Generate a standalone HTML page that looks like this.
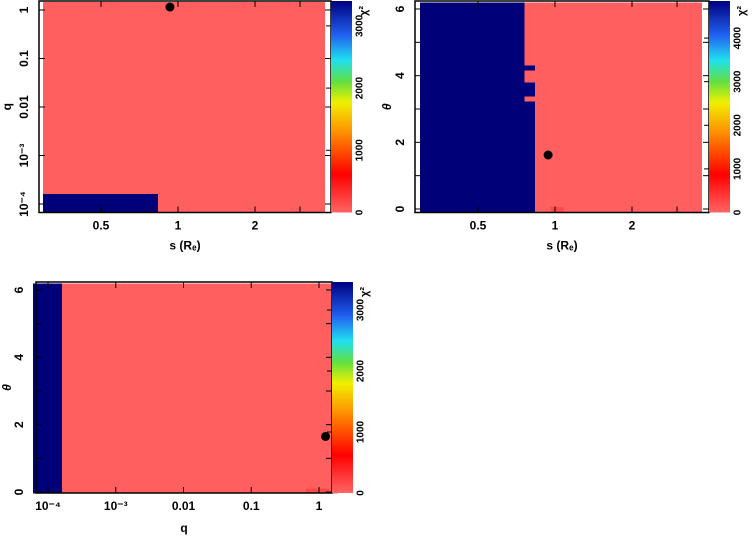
<!DOCTYPE html>
<html><head><meta charset="utf-8">
<style>
body{margin:0;background:#fff;width:754px;height:538px;overflow:hidden}
svg{display:block;font-family:"Liberation Sans",sans-serif;font-weight:bold;font-size:12px}
</style></head>
<body>
<svg id="c" width="754" height="538" xmlns="http://www.w3.org/2000/svg">
<defs>
<linearGradient id="cmap" x1="0" y1="1" x2="0" y2="0">
<stop offset="0" stop-color="#ff6464"/>
<stop offset="0.18" stop-color="#ff0000"/>
<stop offset="0.38" stop-color="#ff9000"/>
<stop offset="0.52" stop-color="#f0f000"/>
<stop offset="0.62" stop-color="#60e040"/>
<stop offset="0.72" stop-color="#20e0f0"/>
<stop offset="0.84" stop-color="#2060f0"/>
<stop offset="1" stop-color="#000080"/>
</linearGradient>
</defs>
</svg>
<script>
// ---- data ----
const panel1Cells = [ // s range, q range, chi2
  {x0:0.297,x1:3.76,y0:6.8e-5,y1:1.46,v:150},
  {x0:0.297,x1:0.835,y0:6.8e-5,y1:1.6e-4,v:5000}
];
const panel1Best = [0.93, 1.15];
const panel2Cells = [
  {x0:0.297,x1:3.76,y0:-0.09,y1:6.2,v:150},
  {x0:0.297,x1:0.76,y0:3.2,y1:6.2,v:5000},
  {x0:0.297,x1:0.835,y0:-0.09,y1:3.22,v:5000},
  {x0:0.76,x1:0.835,y0:4.15,y1:4.3,v:5000},
  {x0:0.76,x1:0.835,y0:3.37,y1:3.8,v:5000},
  {x0:0.96,x1:1.08,y0:-0.09,y1:0.06,v:400}
];
const panel2Best = [0.94, 1.62];
const panel3Cells = [
  {x0:6e-5,x1:1.9,y0:-0.05,y1:6.2,v:150},
  {x0:6e-5,x1:1.6e-4,y0:-0.05,y1:6.2,v:5000},
  {x0:0.64,x1:1.4,y0:-0.05,y1:0.1,v:400}
];
const panel3Best = [1.25, 1.65];
const sTicks = [0.5,1,2,3];
const sTickLabels = ["0.5","1","2",""];
const qTicks = [1e-4,1e-3,0.01,0.1,1];
const qTickLabels = ["10\u207B\u2074","10\u207B\u00B3","0.01","0.1","1"];
const thTicks = [0,1,2,3,4,5,6];
const thTickLabels = ["0","","2","","4","","6"];
const cb1Ticks=[0,1000,2000,3000], cb2Ticks=[0,1000,2000,3000,4000], cb3Ticks=[0,1000,2000,3000];
// ---- helpers ----
const svg=document.getElementById('c');
const NS="http://www.w3.org/2000/svg";
function mk(t,a,p){const e=document.createElementNS(NS,t);for(const k in a)e.setAttribute(k,a[k]);(p||svg).appendChild(e);return e;}
function logScale(d0,d1,r0,r1){return v=>r0+(Math.log(v)-Math.log(d0))/(Math.log(d1)-Math.log(d0))*(r1-r0);}
function linScale(d0,d1,r0,r1){return v=>r0+(v-d0)/(d1-d0)*(r1-r0);}
function color(v,max){
  if(v>=max*0.9) return "#000078";
  if(v<300) return "#ff5f5f";
  return "#ff4848";
}
function panel(o){
  const g=mk('g',{});
  
  
  o.cells.forEach((c,i)=>{
    const x0=o.xs(c.x0),x1=o.xs(c.x1),y0=o.ys(c.y0),y1=o.ys(c.y1);
    const r=mk('rect',{x:Math.min(x0,x1),y:Math.min(y0,y1),width:Math.abs(x1-x0),height:Math.abs(y1-y0),fill:color(c.v,o.cmax),'shape-rendering':'crispEdges'},g);
    
    
  });
  const f=mk('rect',{x:o.fx0,y:o.fy0,width:o.fx1-o.fx0,height:o.fy1-o.fy0,fill:'none',stroke:'#000','stroke-width':1.5},g);
  
  
  o.xt.forEach((t,i)=>{const x=o.xs(t);
    mk('line',{x1:x,x2:x,y1:o.fy1,y2:o.fy1-6,stroke:'#000'},g);
    mk('line',{x1:x,x2:x,y1:o.fy0,y2:o.fy0+6,stroke:'#000'},g);
    if(o.xl[i]){const tx=mk('text',{x:x,y:o.fy1+17,'text-anchor':'middle'},g);tx.textContent=o.xl[i];
      }
  });
  o.yt.forEach((t,i)=>{const y=o.ys(t);
    mk('line',{x1:o.fx0,x2:o.fx0+6,y1:y,y2:y,stroke:'#000'},g);
    mk('line',{x1:o.fx1,x2:o.fx1-6,y1:y,y2:y,stroke:'#000'},g);
    if(o.yl[i]){const lx=o.fx0-o.ylOff;const tx=mk('text',{x:lx,y:y,'text-anchor':'middle',transform:`rotate(-90 ${lx} ${y})`,'dominant-baseline':'middle'},g);tx.textContent=o.yl[i];
      }
  });
  const xt=mk('text',{x:(o.fx0+o.fx1)/2,y:o.fy1+o.xtOff,'text-anchor':'middle'},g);xt.textContent=o.xTitle;
  
  const yx=o.ytx,yy=(o.fy0+o.fy1)/2;
  const yt=mk('text',{x:yx,y:yy,'text-anchor':'middle',transform:`rotate(-90 ${yx} ${yy})`,'dominant-baseline':'middle','font-style':o.yItalic?'italic':'normal'},g);yt.textContent=o.yTitle;
  
  const d=mk('circle',{cx:o.xs(o.best[0]),cy:o.ys(o.best[1]),r:4.5,fill:'#000'},g);
  
  const cb=mk('rect',{x:o.cbx,y:o.fy0,width:21,height:o.fy1-o.fy0,fill:'url(#cmap)'},g);
  
  const cs=linScale(0,o.cmax,o.fy1,o.fy0);
  o.cbt.forEach(t=>{const y=cs(t);
    mk('line',{x1:o.cbx,x2:o.cbx-5,y1:y,y2:y,stroke:'#000'},g);
    const tx=mk('text',{x:o.cbx+29,y:y,'text-anchor':'middle','dominant-baseline':'middle','font-size':10,transform:`rotate(-90 ${o.cbx+29} ${y})`},g);tx.textContent=String(t);
    
  });
  const ct=mk('text',{x:o.cbx+33,y:o.fy0+10,'text-anchor':'middle','dominant-baseline':'middle','font-size':11,transform:`rotate(-90 ${o.cbx+33} ${o.fy0+10})`},g);ct.textContent="\u03C7\u00B2";
  
}
panel({name:'panel-s-q',cells:panel1Cells,best:panel1Best,
  xs:logScale(1,2,178,255),ys:logScale(1,0.1,10,58.5),
  fx0:39,fx1:331,fy0:1,fy1:212.5,cbx:331,cmax:3400,ylOff:14,ytx:8,xtOff:37,
  xt:sTicks,xl:sTickLabels,yt:qTicks,yl:qTickLabels,
  xTitle:"s (R\u2091)",yTitle:"q",cbt:cb1Ticks});
panel({name:'panel-s-theta',cells:panel2Cells,best:panel2Best,
  xs:logScale(1,2,555,632),ys:linScale(0,6,209,9),
  fx0:415,fx1:709,fy0:1,fy1:212.5,cbx:709,cmax:4850,ylOff:14,ytx:388,xtOff:37,
  xt:sTicks,xl:sTickLabels,yt:thTicks,yl:thTickLabels,yItalic:true,
  xTitle:"s (R\u2091)",yTitle:"\u03B8",cbt:cb2Ticks});
panel({name:'panel-q-theta',cells:panel3Cells,best:panel3Best,
  xs:logScale(1e-4,1,48,319),ys:linScale(0,6,492,290),
  fx0:36,fx1:332,fy0:282,fy1:493,cbx:332,cmax:3460,ylOff:16,ytx:8,xtOff:39,
  xt:qTicks,xl:qTickLabels,yt:thTicks,yl:thTickLabels,yItalic:true,
  xTitle:"q",yTitle:"\u03B8",cbt:cb3Ticks});
</script>
</body></html>
